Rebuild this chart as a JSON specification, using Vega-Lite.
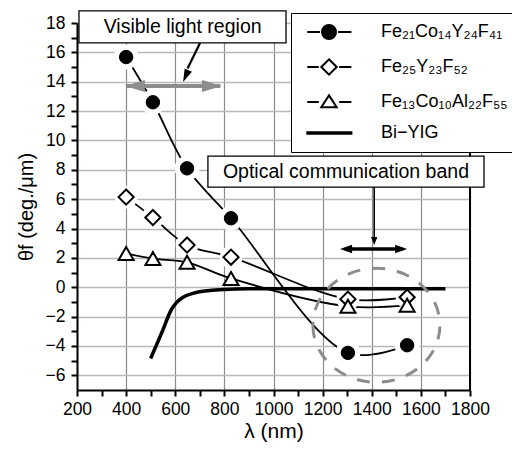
{
  "$schema": "https://vega.github.io/schema/vega-lite/v6.json",
  "width": 393,
  "height": 367,
  "autosize": {"type": "none"},
  "padding": {"left": 77, "top": 23, "right": 42, "bottom": 59},
  "background": "white",
  "config": {
    "view": {"stroke": null},
    "font": "Liberation Sans",
    "axis": {"labelFont": "Liberation Sans", "titleFont": "Liberation Sans"}
  },
  "datasets": {
    "pts": [
      {"series": "Fe₂₁Co₁₄Y₂₄F₄₁", "lam": 400, "theta": 15.68},
      {"series": "Fe₂₁Co₁₄Y₂₄F₄₁", "lam": 509, "theta": 12.6},
      {"series": "Fe₂₁Co₁₄Y₂₄F₄₁", "lam": 648, "theta": 8.1},
      {"series": "Fe₂₁Co₁₄Y₂₄F₄₁", "lam": 827, "theta": 4.7},
      {"series": "Fe₂₁Co₁₄Y₂₄F₄₁", "lam": 1303, "theta": -4.47},
      {"series": "Fe₂₁Co₁₄Y₂₄F₄₁", "lam": 1544, "theta": -3.95},
      {"series": "Fe₂₅Y₂₃F₅₂", "lam": 400, "theta": 6.14},
      {"series": "Fe₂₅Y₂₃F₅₂", "lam": 509, "theta": 4.75},
      {"series": "Fe₂₅Y₂₃F₅₂", "lam": 648, "theta": 2.87},
      {"series": "Fe₂₅Y₂₃F₅₂", "lam": 827, "theta": 2.05},
      {"series": "Fe₂₅Y₂₃F₅₂", "lam": 1303, "theta": -0.81},
      {"series": "Fe₂₅Y₂₃F₅₂", "lam": 1544, "theta": -0.68},
      {"series": "Fe₁₃Co₁₀Al₂₂F₅₅", "lam": 400, "theta": 2.3},
      {"series": "Fe₁₃Co₁₀Al₂₂F₅₅", "lam": 509, "theta": 1.95},
      {"series": "Fe₁₃Co₁₀Al₂₂F₅₅", "lam": 648, "theta": 1.7},
      {"series": "Fe₁₃Co₁₀Al₂₂F₅₅", "lam": 827, "theta": 0.6},
      {"series": "Fe₁₃Co₁₀Al₂₂F₅₅", "lam": 1303, "theta": -1.3},
      {"series": "Fe₁₃Co₁₀Al₂₂F₅₅", "lam": 1544, "theta": -1.22}
    ],
    "yig": [
      {"lam": 500, "theta": -4.85},
      {"lam": 545, "theta": -3.1},
      {"lam": 585, "theta": -1.5},
      {"lam": 605, "theta": -1.05},
      {"lam": 630, "theta": -0.7},
      {"lam": 675, "theta": -0.4},
      {"lam": 740, "theta": -0.22},
      {"lam": 800, "theta": -0.15},
      {"lam": 900, "theta": -0.11},
      {"lam": 1100, "theta": -0.1},
      {"lam": 1700, "theta": -0.1}
    ],
    "leg": [
      {"series": "Fe₂₁Co₁₄Y₂₄F₄₁"},
      {"series": "Fe₂₅Y₂₃F₅₂"},
      {"series": "Fe₁₃Co₁₀Al₂₂F₅₅"},
      {"series": "Bi−YIG"}
    ],
    "edge": [{"lam": 1800, "theta": -7, "theta2": 18}],
    "boxes": [
      {"lam": 208, "lam2": 1051, "theta": 16.64, "theta2": 18.82},
      {"lam": 733, "lam2": 1857, "theta": 6.82, "theta2": 8.93}
    ],
    "notes": [
      {"lam": 630, "theta": 17.73, "text": "Visible light region"},
      {"lam": 1295, "theta": 7.84, "text": "Optical communication band"}
    ],
    "grayShaft": [{"lam": 402, "lam2": 783, "theta": 13.7, "theta2": 13.7}],
    "blackShafts": [
      {"lam": 1290, "theta": 2.6, "lam2": 1525, "theta2": 2.6, "w": "thick"},
      {"lam": 1410, "theta": 6.82, "lam2": 1410, "theta2": 3.3, "w": "thin"},
      {"lam": 701, "theta": 16.64, "lam2": 650, "theta2": 14.9, "w": "mid"}
    ],
    "heads": [
      {"id": "gl", "lam": 395, "theta": 13.7},
      {"id": "gr", "lam": 790, "theta": 13.7},
      {"id": "bl", "lam": 1271, "theta": 2.6},
      {"id": "br", "lam": 1544, "theta": 2.6},
      {"id": "dn", "lam": 1410, "theta": 2.87},
      {"id": "dg", "lam": 632, "theta": 13.98}
    ],
    "oval": [{"lam": 1419, "theta": -2.59}]
  },
  "encoding": {
    "x": {
      "field": "lam", "type": "quantitative",
      "scale": {"domain": [200, 1800], "nice": false, "zero": false},
      "axis": {
        "orient": "bottom",
        "title": "λ (nm)", "titleFontSize": 21, "titleFontWeight": "normal", "titleColor": "black", "titlePadding": 3,
        "values": [200, 300, 400, 500, 600, 700, 800, 900, 1000, 1100, 1200, 1300, 1400, 1500, 1600, 1700, 1800],
        "labelExpr": "datum.value % 200 === 0 ? datum.label : ''",
        "format": "d",
        "labelFontSize": 17.5, "labelColor": "black", "labelFlush": false, "labelOverlap": false, "labelPadding": 4,
        "domain": true, "domainColor": "black", "domainWidth": 2,
        "ticks": true, "tickColor": "black", "tickWidth": 2, "tickSize": 6,
        "grid": true, "gridColor": "#8a8a8a", "gridWidth": 1.2,
        "gridOpacity": {"condition": {"test": "datum.value % 200 === 0", "value": 1}, "value": 0}
      }
    },
    "y": {
      "field": "theta", "type": "quantitative",
      "scale": {"domain": [-7, 18], "nice": false, "zero": false},
      "axis": {
        "orient": "left",
        "title": "θf (deg./μm)", "titleFontSize": 20, "titleFontWeight": "normal", "titleColor": "black", "titlePadding": 9,
        "values": [-6, -5, -4, -3, -2, -1, 0, 1, 2, 3, 4, 5, 6, 7, 8, 9, 10, 11, 12, 13, 14, 15, 16, 17, 18],
        "labelExpr": "datum.value % 2 === 0 ? datum.label : ''",
        "labelFontSize": 17.5, "labelColor": "black", "labelFlush": false, "labelOverlap": false, "labelPadding": 6,
        "domain": true, "domainColor": "black", "domainWidth": 2,
        "ticks": true, "tickColor": "black", "tickWidth": 2, "tickSize": 6,
        "grid": true, "gridColor": "#b8b8b8", "gridWidth": 1.5,
        "gridOpacity": {"condition": {"test": "datum.value % 2 === 0", "value": 1}, "value": 0}
      }
    }
  },
  "layer": [
    {
      "data": {"name": "pts"},
      "mark": {"type": "line", "interpolate": "catmull-rom", "color": "black", "strokeWidth": 1.8},
      "encoding": {"detail": {"field": "series"}}
    },
    {
      "data": {"name": "edge"},
      "mark": {"type": "rule", "color": "black", "strokeWidth": 2},
      "encoding": {"y2": {"field": "theta2"}}
    },
    {
      "data": {"name": "pts"},
      "transform": [{"filter": "datum.series !== 'Fe₁₃Co₁₀Al₂₂F₅₅'"}],
      "mark": {"type": "point", "shape": "circle", "filled": true, "fill": "white", "strokeWidth": 0, "opacity": 1},
      "encoding": {
        "size": {"condition": {"test": "datum.series === 'Fe₂₁Co₁₄Y₂₄F₄₁'", "value": 620}, "value": 520}
      }
    },
    {
      "data": {"name": "yig"},
      "mark": {"type": "line", "interpolate": "monotone", "color": "black", "strokeWidth": 3.5},
      "encoding": {}
    },
    {
      "data": {"name": "pts"},
      "transform": [{"filter": "datum.series === 'Fe₂₁Co₁₄Y₂₄F₄₁'"}],
      "mark": {"type": "point", "shape": "circle", "filled": true, "fill": "black", "stroke": "black", "strokeWidth": 1, "size": 180, "opacity": 1}
    },
    {
      "data": {"name": "pts"},
      "transform": [{"filter": "datum.series === 'Fe₂₅Y₂₃F₅₂'"}],
      "mark": {"type": "point", "shape": "diamond", "filled": true, "fill": "white", "stroke": "black", "strokeWidth": 2, "size": 230, "opacity": 1}
    },
    {
      "data": {"name": "pts"},
      "transform": [{"filter": "datum.series === 'Fe₁₃Co₁₀Al₂₂F₅₅'"}],
      "mark": {"type": "point", "shape": "triangle-up", "filled": true, "fill": "white", "stroke": "black", "strokeWidth": 2, "size": 225, "opacity": 1}
    },
    {
      "data": {"name": "oval"},
      "mark": {"type": "point", "shape": "M-1.114,0A1.114,1 0 1,0 1.114,0A1.114,1 0 1,0 -1.114,0Z", "filled": false, "stroke": "#8c8c8c", "strokeWidth": 3, "strokeDash": [13, 12], "size": 12996, "opacity": 1}
    },
    {
      "data": {"name": "boxes"},
      "mark": {"type": "rect", "fill": "white", "stroke": "black", "strokeWidth": 1.3},
      "encoding": {"x2": {"field": "lam2"}, "y2": {"field": "theta2"}}
    },
    {
      "data": {"name": "notes"},
      "mark": {"type": "text", "font": "Liberation Sans", "fontSize": 19.5, "color": "black", "align": "center", "baseline": "middle"},
      "encoding": {"text": {"field": "text"}}
    },
    {
      "data": {"name": "grayShaft"},
      "mark": {"type": "rule", "color": "#8c8c8c", "strokeWidth": 4},
      "encoding": {"x2": {"field": "lam2"}, "y2": {"field": "theta2"}}
    },
    {
      "data": {"name": "blackShafts"},
      "mark": {"type": "rule", "color": "black"},
      "encoding": {
        "x2": {"field": "lam2"},
        "y2": {"field": "theta2"},
        "strokeWidth": {"condition": [{"test": "datum.w === 'thick'", "value": 3.5}, {"test": "datum.w === 'thin'", "value": 1.6}], "value": 2.2}
      }
    },
    {
      "data": {"name": "heads"},
      "mark": {"type": "point", "filled": true, "strokeWidth": 0, "opacity": 1},
      "encoding": {
        "shape": {"condition": [
          {"test": "datum.id === 'gl'", "value": "M0,0L2,-0.6L2,0.6Z"},
          {"test": "datum.id === 'gr'", "value": "M0,0L-2,-0.6L-2,0.6Z"},
          {"test": "datum.id === 'bl'", "value": "M0,0L2,-0.7L2,0.7Z"},
          {"test": "datum.id === 'br'", "value": "M0,0L-2,-0.7L-2,0.7Z"},
          {"test": "datum.id === 'dn'", "value": "M0,0L-0.8,-2L0.8,-2Z"}
        ], "value": "M0,0L1.77,-2.07L0.31,-2.71Z"},
        "size": {"condition": [
          {"test": "datum.id === 'gl' || datum.id === 'gr'", "value": 400},
          {"test": "datum.id === 'bl' || datum.id === 'br'", "value": 144},
          {"test": "datum.id === 'dn'", "value": 64}
        ], "value": 100},
        "fill": {"condition": {"test": "datum.id === 'gl' || datum.id === 'gr'", "value": "#8c8c8c"}, "value": "black"}
      }
    },
    {
      "data": {"name": "leg"},
      "mark": {"type": "point", "filled": true, "stroke": "black", "strokeWidth": 2, "opacity": 1},
      "encoding": {
        "shape": {
          "field": "series", "type": "nominal",
          "scale": {
            "domain": ["Fe₂₁Co₁₄Y₂₄F₄₁", "Fe₂₅Y₂₃F₅₂", "Fe₁₃Co₁₀Al₂₂F₅₅", "Bi−YIG"],
            "range": [
              "M-3.1,0H-1.3M1.3,0H3.2M1,0A1,1 0 1,1 -1,0A1,1 0 1,1 1,0Z",
              "M-3.1,0H-1.45M1.45,0H3.2M0,-1.1L1.1,0L0,1.1L-1.1,0Z",
              "M-3.1,0H-1.45M1.45,0H3.2M0,-0.95L1.1,0.75L-1.1,0.75Z",
              "M-3.1,-0.12H3.2V0.12H-3.1Z"
            ]
          },
          "legend": {
            "orient": "none", "legendX": 214, "legendY": -10, "title": null,
            "padding": 10, "strokeColor": "black", "fillColor": "white",
            "symbolSize": 196, "symbolStrokeColor": "black", "symbolStrokeWidth": 2,
            "symbolOffset": 19, "labelOffset": 43, "rowPadding": 12,
            "labelFont": "Liberation Sans", "labelFontSize": 18, "labelColor": "black", "labelLimit": 300
          }
        },
        "fill": {
          "field": "series", "type": "nominal",
          "scale": {
            "domain": ["Fe₂₁Co₁₄Y₂₄F₄₁", "Fe₂₅Y₂₃F₅₂", "Fe₁₃Co₁₀Al₂₂F₅₅", "Bi−YIG"],
            "range": ["black", "white", "white", "black"]
          },
          "legend": {
            "orient": "none", "legendX": 214, "legendY": -10, "title": null,
            "padding": 10, "strokeColor": "black", "fillColor": "white",
            "symbolSize": 196, "symbolStrokeColor": "black", "symbolStrokeWidth": 2,
            "symbolOffset": 19, "labelOffset": 43, "rowPadding": 12,
            "labelFont": "Liberation Sans", "labelFontSize": 18, "labelColor": "black", "labelLimit": 300
          }
        },
        "stroke": {
          "field": "series", "type": "nominal",
          "scale": {
            "domain": ["Fe₂₁Co₁₄Y₂₄F₄₁", "Fe₂₅Y₂₃F₅₂", "Fe₁₃Co₁₀Al₂₂F₅₅", "Bi−YIG"],
            "range": ["black", "black", "black", "black"]
          },
          "legend": {
            "orient": "none", "legendX": 214, "legendY": -10, "title": null,
            "padding": 10, "strokeColor": "black", "fillColor": "white",
            "symbolSize": 196, "symbolStrokeColor": "black", "symbolStrokeWidth": 2,
            "symbolOffset": 19, "labelOffset": 43, "rowPadding": 12,
            "labelFont": "Liberation Sans", "labelFontSize": 18, "labelColor": "black", "labelLimit": 300
          }
        }
      }
    }
  ]
}
